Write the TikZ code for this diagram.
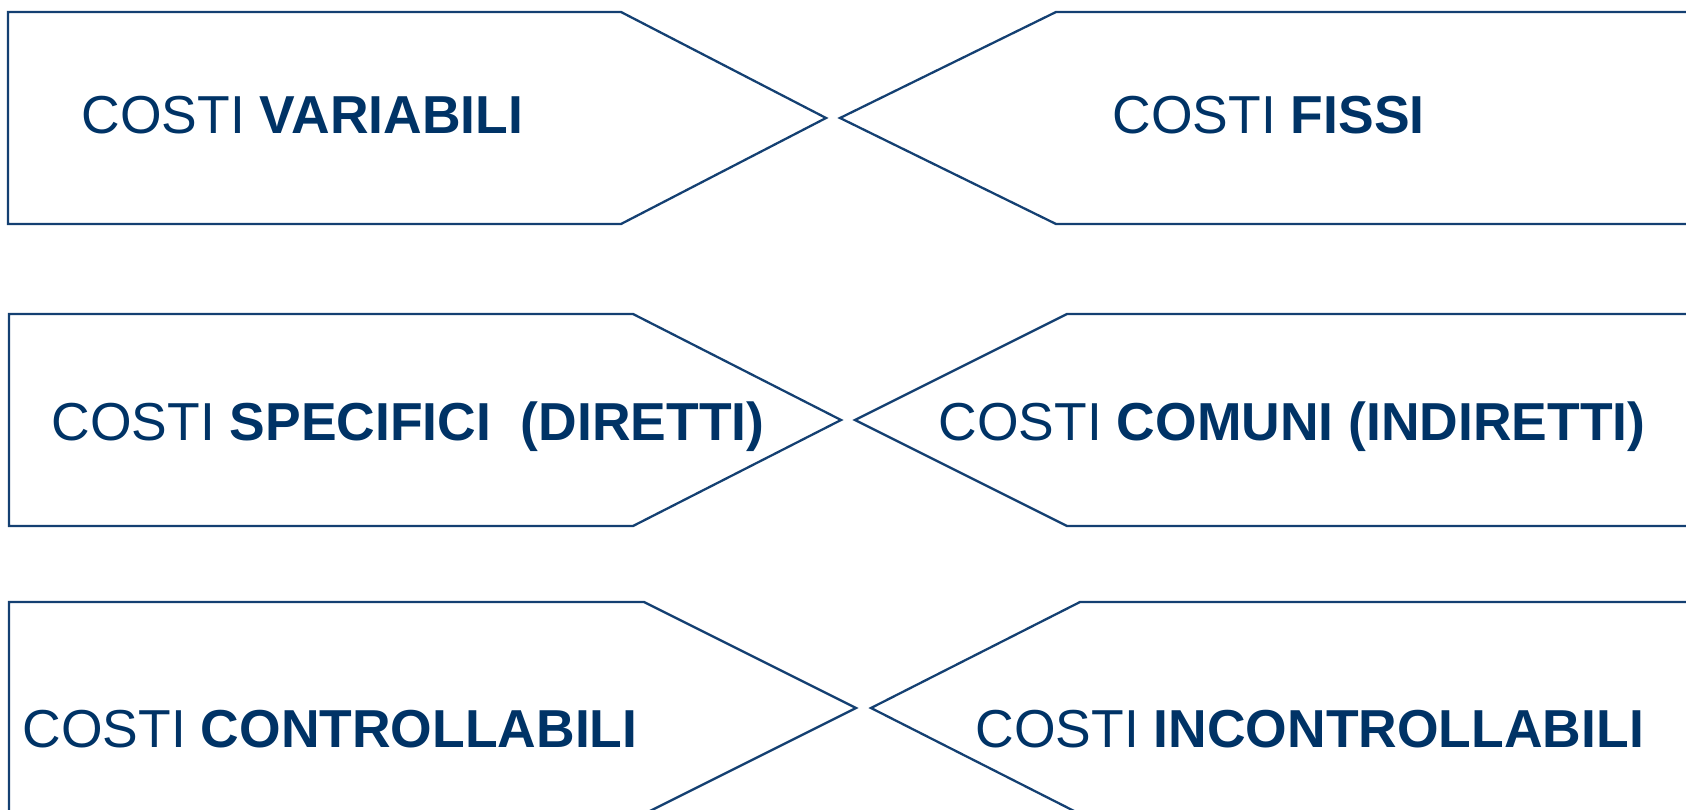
\documentclass[tikz,border=0pt]{standalone}
\usepackage{fontspec}
\setmainfont{Liberation Sans}
\usepackage{xcolor}
\usepackage{tikz}

\definecolor{costtext}{RGB}{0,51,102}
\definecolor{costline}{RGB}{20,64,114}

\begin{document}
\begin{tikzpicture}[
  x=0.01cm, y=-0.01cm,
  every node/.style={font=\fontsize{15.2pt}{18pt}\selectfont},
  costbox/.style={draw=costline, line width=0.65pt, line join=miter},
  lbl/.style={anchor=base west, inner sep=0pt, text=costtext},
]
\useasboundingbox (0,0) rectangle (1686,810);

% Row 1: variabili / fissi
\draw[costbox] (8,12) -- (621,12) -- (826,118) -- (621,224) -- (8,224) -- cycle;
\draw[costbox] (1700,12) -- (1056,12) -- (840,118) -- (1056,224) -- (1700,224);
\node[lbl] (var) at (81,134) {COSTI \textbf{VARIABILI}};
\node[lbl] (fix) at (1112,134) {COSTI \textbf{FISSI}};

% Row 2: specifici / comuni
\draw[costbox] (9,314) -- (633,314) -- (841,420) -- (633,526) -- (9,526) -- cycle;
\draw[costbox] (1700,314) -- (1067,314) -- (855,420) -- (1067,526) -- (1700,526);
\node[lbl] (spec) at (51,441) {COSTI \textbf{SPECIFICI\ \ (DIRETTI)}};
\node[lbl] (com) at (938,441) {COSTI \textbf{COMUNI (INDIRETTI)}};

% Row 3: controllabili / incontrollabili
\draw[costbox] (9,602) -- (644,602) -- (856,708) -- (644,814) -- (9,814) -- cycle;
\draw[costbox] (1700,602) -- (1080,602) -- (871,708) -- (1080,814) -- (1700,814);
\node[lbl] (ctrl) at (22,747) {COSTI \textbf{CONTROLLABILI}};
\node[lbl] (unctrl) at (975,747) {COSTI \textbf{INCONTROLLABILI}};

\end{tikzpicture}
\end{document}
